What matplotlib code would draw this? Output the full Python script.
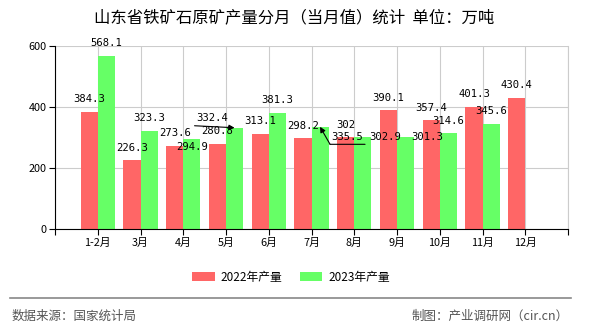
import matplotlib
matplotlib.use("Agg")
import matplotlib.pyplot as plt
from matplotlib.text import OffsetFrom
import numpy as np

plt.rcParams['font.family'] = ['Noto Sans CJK SC', 'DejaVu Sans']

categories = ["1-2月", "3月", "4月", "5月", "6月", "7月", "8月", "9月", "10月", "11月", "12月"]
prod_2022 = [384.3, 226.3, 273.6, 280.8, 313.1, 298.2, 302, 390.1, 357.4, 401.3, 430.4]
prod_2023 = [568.1, 323.3, 294.9, 332.4, 381.3, 335.5, 302.9, 301.3, 314.6, 345.6]
series_names = ["2022年产量", "2023年产量"]
title = "山东省铁矿石原矿产量分月（当月值）统计  单位：万吨"
source_text = "数据来源：国家统计局"
credit_text = "制图：产业调研网（cir.cn）"

RED = "#FF6666"
GREEN = "#66FF66"

fig = plt.figure(figsize=(5.9, 3.3), dpi=100)
W, H = 590, 330
ax = fig.add_axes([55 / W, 1 - 229.3 / H, (568 - 55) / W, (229.3 - 46) / H])

x = np.arange(len(categories))
bw = 0.4
ax.bar(x[:len(prod_2022)] - bw / 2, prod_2022, width=bw, color=RED, zorder=3, label=series_names[0])
ax.bar(x[:len(prod_2023)] + bw / 2, prod_2023, width=bw, color=GREEN, zorder=3, label=series_names[1])

ax.set_xlim(-1, 11)
ax.set_ylim(0, 600)
ax.set_yticks([0, 200, 400, 600])
ax.set_xticks(np.arange(-1, 12))
ax.set_xticklabels([""] + categories + [""])
ax.tick_params(axis='both', labelsize=7.8, length=4, width=0.8, color='black', pad=2)
ax.grid(True, color='#cccccc', lw=0.8, zorder=0)
ax.spines['top'].set_visible(False)
ax.spines['right'].set_color('#cccccc')
ax.spines['left'].set_color('black')
ax.spines['bottom'].set_color('black')
ax.spines['left'].set_zorder(4)
ax.spines['bottom'].set_zorder(4)

lab_font = dict(family='DejaVu Sans Mono', fontsize=7.6, color='black', ha='center', va='center', zorder=5)

# label placement adjustments (pixel offsets dx, dy from the default spot)
adj_2023 = {2: (0, -20.5), 6: (22, -12.5), 7: (22, -12.5)}
arrow_kw = dict(arrowstyle='-|>', color='black', lw=0.8, mutation_scale=8, shrinkA=0, shrinkB=0)
line_kw = dict(arrowstyle='-', color='black', lw=0.8, shrinkA=0, shrinkB=0)

for i, v in enumerate(prod_2022):
    ax.annotate(f"{v:g}", xy=(x[i] - bw / 2, v), xytext=(0, 12.5), textcoords='offset pixels', **lab_font)

for i, v in enumerate(prod_2023):
    xb = x[i] + bw / 2
    if i == 3:
        ax.annotate(f"{v:g}", xy=(xb, v), xytext=(-22.5, 9.5), textcoords='offset pixels', **lab_font)
        ax.annotate("", xy=(xb, v), xytext=(-40, 2), textcoords='offset pixels', arrowprops=arrow_kw, zorder=5)
        continue
    if i == 5:
        ax.annotate(f"{v:g}", xy=(xb, v), xytext=(27, -10.5), textcoords='offset pixels', **lab_font)
        ax.annotate("", xy=(xb, v), xytext=(10, -17.5), textcoords='offset pixels', arrowprops=arrow_kw, zorder=5)
        off = OffsetFrom(ax.transData, (xb, v), unit='pixels')
        ax.annotate("", xy=(10, -17.5), xycoords=off, xytext=(45, -17.5), textcoords=off,
                    arrowprops=line_kw, zorder=5)
        continue
    dx, dy = adj_2023.get(i, (0, 0))
    ax.annotate(f"{v:g}", xy=(xb, v), xytext=(dx, 12.5 + dy), textcoords='offset pixels', **lab_font)

fig.text(294 / W, 1 - 17.5 / H, title, ha='center', va='center', fontsize=11.8, color='black')

handles, labels = ax.get_legend_handles_labels()
fig.legend(handles, labels, loc='center', bbox_to_anchor=(291 / W, 1 - 277 / H), ncol=2, frameon=False,
           fontsize=8.5, handlelength=1.9, handleheight=0.8, columnspacing=1.5, handletextpad=0.5)

fig.add_artist(plt.Line2D([10 / W, 571 / W], [1 - 298.3 / H, 1 - 298.3 / H], color='#888888', lw=1.2))
fig.text(12 / W, 1 - 316 / H, source_text, ha='left', va='center', fontsize=9, color='#555555')
fig.text(569 / W, 1 - 316 / H, credit_text, ha='right', va='center', fontsize=9, color='#555555')

fig.savefig("out.png", dpi=100)
